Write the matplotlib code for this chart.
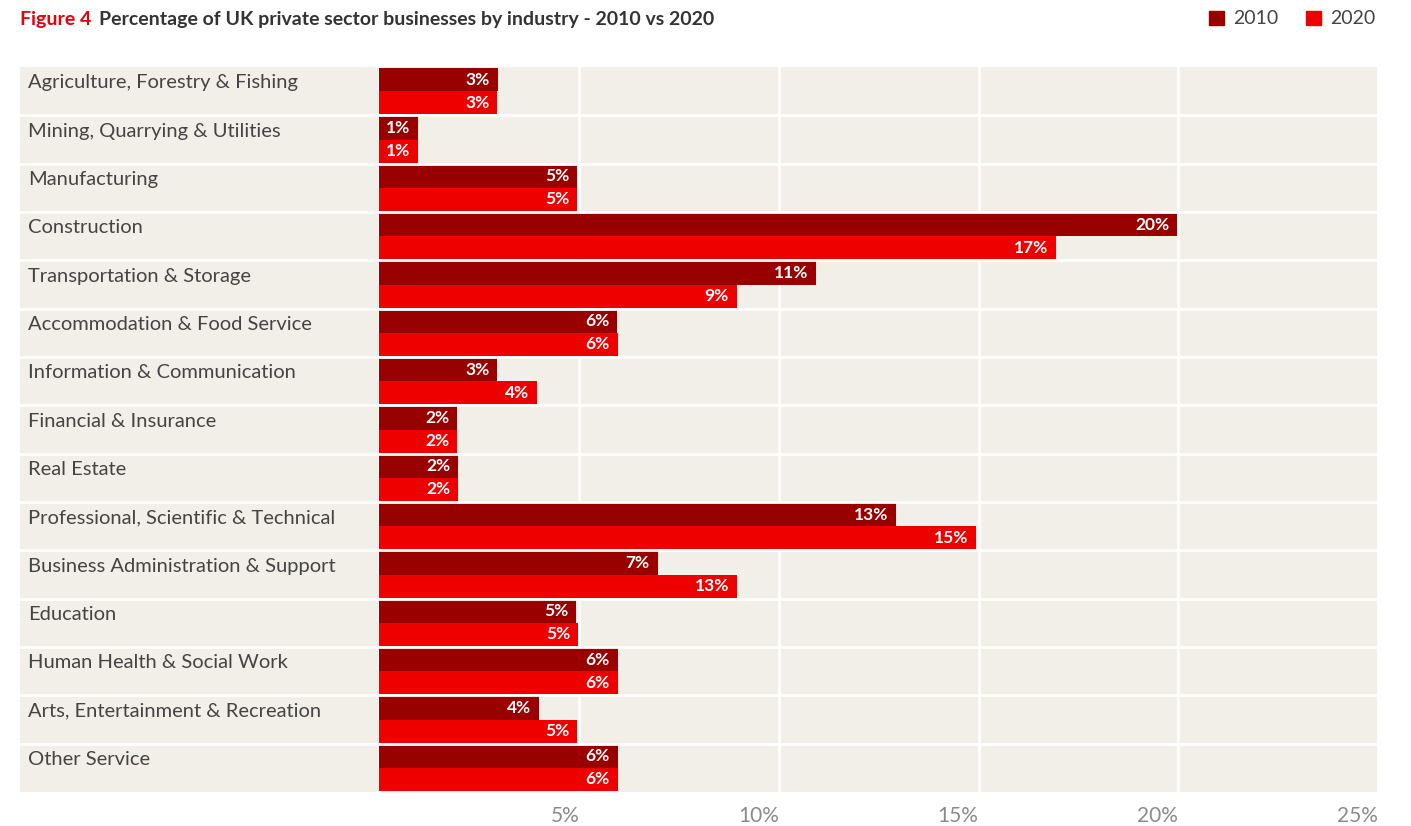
import numpy as np
import matplotlib.pyplot as plt
from matplotlib.patches import Patch

industries = [
    "Agriculture, Forestry & Fishing",
    "Mining, Quarrying & Utilities",
    "Manufacturing",
    "Construction",
    "Transportation & Storage",
    "Accommodation & Food Service",
    "Information & Communication",
    "Financial & Insurance",
    "Real Estate",
    "Professional, Scientific & Technical",
    "Business Administration & Support",
    "Education",
    "Human Health & Social Work",
    "Arts, Entertainment & Recreation",
    "Other Service",
]
# bar lengths (%)
v2010 = [2.97, 0.97, 4.95, 19.97, 10.93, 5.95, 2.95, 1.95, 1.97, 12.93, 6.97, 4.93, 5.97, 4.0, 5.97]
v2020 = [2.95, 0.97, 4.95, 16.93, 8.95, 5.97, 3.95, 1.95, 1.97, 14.93, 8.95, 4.97, 5.97, 4.95, 5.97]
# labels as printed on the bars
lab2010 = ["3%", "1%", "5%", "20%", "11%", "6%", "3%", "2%", "2%", "13%", "7%", "5%", "6%", "4%", "6%"]
lab2020 = ["3%", "1%", "5%", "17%", "9%", "6%", "4%", "2%", "2%", "15%", "13%", "5%", "6%", "5%", "6%"]
xticks = [5, 10, 15, 20, 25]

c2010 = "#990000"
c2020 = "#ee0000"
bg = "#f2efe8"
plt.rcParams["font.family"] = ["Lato", "DejaVu Sans"]

fig = plt.figure(figsize=(14.11, 8.26), dpi=100)
ax = fig.add_axes([20 / 1411, 34 / 826, 1358 / 1411, 725 / 826])
ax.set_facecolor(bg)

n = len(industries)
y = np.arange(n)
h = 0.48
ax.barh(y - h / 2, v2010, height=h, color=c2010, zorder=2)
ax.barh(y + h / 2, v2020, height=h, color=c2020, zorder=2)

for i in range(n):
    ax.text(v2010[i] - 0.2, y[i] - h / 2, lab2010[i], color="white", fontsize=12.5,
            fontweight="bold", ha="right", va="center", zorder=3)
    ax.text(v2020[i] - 0.2, y[i] + h / 2, lab2020[i], color="white", fontsize=12.5,
            fontweight="bold", ha="right", va="center", zorder=3)
    ax.text(-8.8, y[i] - 0.17, industries[i], color="#444444", fontsize=14.5,
            ha="left", va="center", zorder=3)

# grid
for x in [0] + xticks:
    ax.axvline(x, color="white", lw=2, zorder=1)
for k in range(n - 1):
    ax.axhline(k + 0.5, color="white", lw=2, zorder=2.5)

ax.set_xlim(-9, 25)
ax.set_ylim(n - 0.5, -0.5)
ax.set_yticks([])
ax.set_xticks(xticks)
ax.set_xticklabels([f"{t}%" for t in xticks], color="#8a8a8a", fontsize=15, ha="right")
ax.tick_params(axis="x", length=0, pad=10)
for s in ax.spines.values():
    s.set_visible(False)

fig.text(20 / 1411, 1 - 20 / 826, "Figure 4", color="#e8000b", fontsize=14,
         fontweight="bold", va="center")
fig.text(99 / 1411, 1 - 20 / 826, "Percentage of UK private sector businesses by industry - 2010 vs 2020",
         color="#333333", fontsize=14, fontweight="bold", va="center")

handles = [Patch(color=c2010, label="2010"), Patch(color=c2020, label="2020")]
fig.legend(handles=handles, loc="center right", bbox_to_anchor=(1393 / 1411, 1 - 19 / 826),
           ncol=2, frameon=False, fontsize=14, handlelength=0.75, handleheight=0.75,
           handletextpad=0.5, columnspacing=1.4, labelcolor="#444444")

fig.savefig("out.png", dpi=100)
